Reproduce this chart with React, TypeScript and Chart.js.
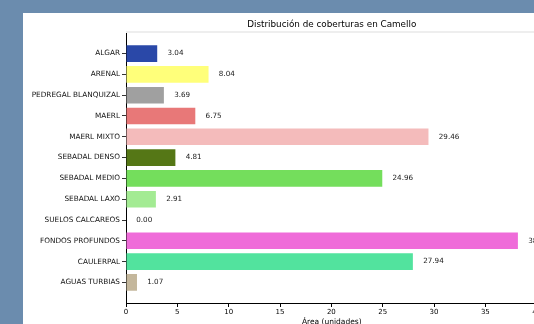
import React, { useEffect, useRef } from "react";
import { Chart, registerables } from "chart.js";

Chart.register(...registerables);

const TITLE = "Distribución de coberturas en Camello";
const X_TITLE = "Área (unidades)";
const categories = [
  "ALGAR",
  "ARENAL",
  "PEDREGAL BLANQUIZAL",
  "MAERL",
  "MAERL MIXTO",
  "SEBADAL DENSO",
  "SEBADAL MEDIO",
  "SEBADAL LAXO",
  "SUELOS CALCAREOS",
  "FONDOS PROFUNDOS",
  "CAULERPAL",
  "AGUAS TURBIAS",
];
const values = [3.04, 8.04, 3.69, 6.75, 29.46, 4.81, 24.96, 2.91, 0.0, 38.17, 27.94, 1.07];
const colors = [
  "#2a48a8",
  "#ffff7a",
  "#a0a0a0",
  "#e87878",
  "#f4bbbb",
  "#557716",
  "#74de5c",
  "#a3eb93",
  "#ffffff",
  "#ef6cd9",
  "#52e39e",
  "#c4b79c",
];
const xTicks = [0, 5, 10, 15, 20, 25, 30, 35, 40];

const FONT = "'DejaVu Sans', sans-serif";

export default function App() {
  const ref = useRef<HTMLCanvasElement | null>(null);

  useEffect(() => {
    if (!ref.current) return;
    const maxV = Math.max(...values);
    const n = categories.length;
    const labelPlugin = {
      id: "extras",
      afterDatasetsDraw(chart: any) {
        const ctx = chart.ctx;
        const xs = chart.scales.x;
        const ys = chart.scales.y;
        const ca = chart.chartArea;
        ctx.save();
        // light top spine
        ctx.strokeStyle = "#eeeeee";
        ctx.lineWidth = 2;
        ctx.beginPath();
        ctx.moveTo(ca.left, ca.top - 1);
        ctx.lineTo(ca.right, ca.top - 1);
        ctx.stroke();
        // value labels
        ctx.fillStyle = "#222";
        ctx.font = `7.2px ${FONT}`;
        ctx.textAlign = "left";
        ctx.textBaseline = "middle";
        values.forEach((v, i) => {
          ctx.fillText(v.toFixed(2), xs.getPixelForValue(v + 1), ys.getPixelForValue(i));
        });
        // title
        ctx.fillStyle = "#000";
        ctx.textAlign = "center";
        ctx.font = `8.8px ${FONT}`;
        ctx.fillText(TITLE, (ca.left + ca.right) / 2, ca.top - 8);
        // x axis title
        ctx.font = `7.5px ${FONT}`;
        ctx.fillText(X_TITLE, (ca.left + ca.right) / 2, ca.bottom + 19);
        ctx.restore();
      },
    };

    const chart = new Chart(ref.current, {
      type: "bar",
      data: {
        datasets: [
          {
            data: values.map((v, i) => ({ x: v, y: i })),
            backgroundColor: colors,
            borderWidth: 0,
            barPercentage: 0.8,
            categoryPercentage: 1,
          },
        ],
      },
      options: {
        indexAxis: "y",
        animation: false,
        responsive: false,
        devicePixelRatio: 1,
        layout: { padding: { left: 0, right: 45.5, top: 20, bottom: 0 } },
        plugins: { legend: { display: false }, tooltip: { enabled: false }, title: { display: false } },
        scales: {
          x: {
            type: "linear",
            min: 0,
            max: maxV * 1.05,
            offset: false,
            afterBuildTicks: (s: any) => {
              s.ticks = xTicks.map((v) => ({ value: v }));
            },
            afterFit: (s: any) => {
              s.height = 50;
            },
            border: { display: true, color: "#000", width: 1 },
            grid: { drawOnChartArea: false, drawTicks: true, tickLength: 4, color: "#000", offset: false },
            ticks: { color: "#000", font: { family: FONT, size: 7 }, padding: 1, maxRotation: 0 },
          },
          y: {
            type: "linear",
            reverse: true,
            offset: false,
            min: -0.4 - 0.05 * (n - 1 + 0.8),
            max: n - 1 + 0.4 + 0.05 * (n - 1 + 0.8),
            afterBuildTicks: (s: any) => {
              s.ticks = categories.map((_, i) => ({ value: i }));
            },
            afterFit: (s: any) => {
              s.width = 103;
            },
            border: { display: true, color: "#000", width: 1 },
            grid: { drawOnChartArea: false, drawTicks: true, tickLength: 4, color: "#333", offset: false },
            ticks: {
              color: "#111",
              font: { family: FONT, size: 7.3 },
              padding: 2,
              callback: (v: any) => categories[v as number] ?? "",
            },
          },
        },
      },
      plugins: [labelPlugin],
    });
    return () => chart.destroy();
  }, []);

  return (
    <div
      style={{
        position: "fixed",
        left: 0,
        top: 0,
        width: 534,
        height: 324,
        overflow: "hidden",
        background: "#6b8cae",
      }}
    >
      <div
        style={{
          position: "absolute",
          left: 23,
          top: 13,
          width: 560,
          height: 340,
          background: "#ffffff",
        }}
      >
        <canvas ref={ref} width={560} height={340} style={{ width: 560, height: 340, display: "block" }} />
      </div>
    </div>
  );
}
